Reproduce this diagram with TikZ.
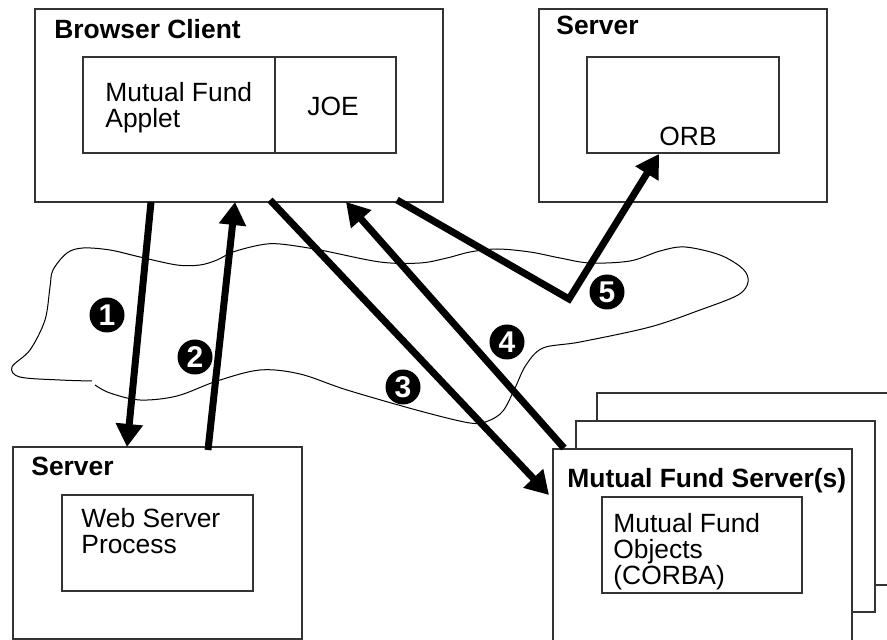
\documentclass[tikz,border=0pt]{standalone}
\usepackage{fontspec}
\setmainfont{Liberation Sans}
\usetikzlibrary{arrows.meta,fit}
\begin{document}
\begin{tikzpicture}[x=0.5pt,y=-0.5pt,
  box/.style={draw=black!80, line width=0.65pt, fill=white, inner sep=0pt},
  lbl/.style={anchor=base west, inner sep=0pt, font=\fontsize{13.2}{13}\selectfont, align=left},
  blbl/.style={anchor=base west, inner sep=0pt, font=\fontsize{13.2}{13}\selectfont\bfseries},
  num/.style={circle, fill=black, text=white, inner sep=0pt, minimum size=17.5pt, font=\fontsize{15}{15}\selectfont\bfseries},
  flow/.style={line width=3.5pt, -{Triangle[length=11.5pt,width=13pt]}, line join=miter},
  netline/.style={line width=0.5pt}
]
\useasboundingbox (0,0) rectangle (887,640);
\clip (0,0) rectangle (887,640);

% network cloud
\draw[netline] plot[smooth, tension=0.55] coordinates {
 (95,385) (110,393) (140,400) (177,396) (217,381) (260,370) (300,374) (347,390)
 (420,411) (470,423) (488,421) (503,411) (515,388) (526,365) (543,348) (580,342)
 (650,327) (700,310) (738,295) (748,282) (743,269) (720,255) (685,247) (660,251)
 (630,261) (590,263) (560,258) (530,252) (497,249) (470,252) (447,258) (420,263)
 (380,262) (320,250) (280,244) (260,245) (233,252) (217,260) (200,265) (177,265)
 (140,257) (110,250) (83,248) (67,253) (53,270) (50,287) (45,320) (30,350)
 (12,367) (20,377) (60,380) (92,381)};

% Browser client
\node[box, fit={(35,9) (443,202)}] (browser) {};
\node[blbl] (browserlbl) at (54,39) {Browser Client};
\node[box, fit={(83,57) (275,153)}] (applet) {};
\node[box, fit={(275,57) (396,153)}] (joe) {};
\node[lbl] (appletlbl) at (105,128) {Mutual Fund\\Applet};
\node[anchor=base, inner sep=0pt, font=\fontsize{13.2}{13}\selectfont] (joelbl) at (333,116) {JOE};

% ORB server
\node[box, fit={(539,9) (827,202)}] (orbsrv) {};
\node[blbl] (orbsrvlbl) at (556,35) {Server};
\node[box, fit={(587,57) (779,153)}] (orb) {};
\node[anchor=base, inner sep=0pt, font=\fontsize{13.2}{13}\selectfont] (orblbl) at (688,146) {ORB};

% Web server
\node[box, fit={(13,447) (302,639)}] (websrv) {};
\node[blbl] (websrvlbl) at (31,475) {Server};
\node[box, fit={(62,495) (253,591)}] (webproc) {};
\node[lbl] (webproclbl) at (81,553) {Web Server\\Process};

% Mutual fund servers (stack)
\node[box, fit={(597,393) (900,585)}] (mfs3) {};
\node[box, fit={(576,421) (875,612)}] (mfs2) {};
\node[box, fit={(553,449) (852,660)}] (mfs1) {};
\node[blbl] (mfslbl) at (567,487) {Mutual Fund Server(s)};
\node[box, fit={(602,497) (802,593)}] (mfobj) {};
\node[lbl] (mfobjlbl) at (613,584) {Mutual Fund\\Objects\\(CORBA)};

% arrow end points
\coordinate (a1s) at (151,202);
\coordinate (a1e) at (127,447);
\coordinate (a2s) at (208,450);
\coordinate (a2e) at (235,202);
\coordinate (a3s) at (270,200);
\coordinate (a3e) at (549,495);
\coordinate (a4s) at (564,448);
\coordinate (a4e) at (346,202);
\coordinate (a5s) at (397,200);
\coordinate (a5m) at (569,299);
\coordinate (a5e) at (659,154);

\draw[flow] (a1s) -- (a1e);
\draw[flow] (a2s) -- (a2e);
\draw[flow] (a3s) -- (a3e);
\draw[flow] (a4s) -- (a4e);
\draw[flow] (a5s) -- (a5m) -- (a5e);

% step numbers
\node[num] (n1) at (107,315) {1};
\node[num] (n2) at (195,357) {2};
\node[num] (n3) at (403,387) {3};
\node[num] (n4) at (507,342) {4};
\node[num] (n5) at (607,292) {5};
\end{tikzpicture}
\end{document}
